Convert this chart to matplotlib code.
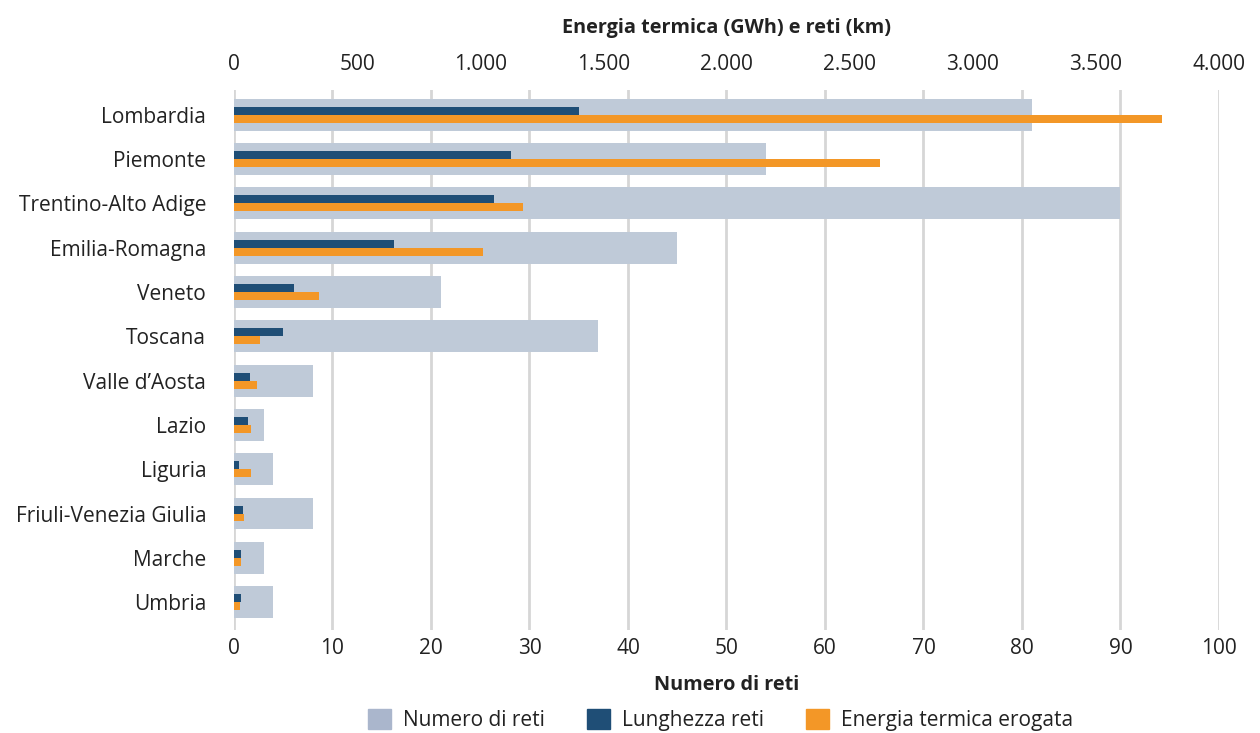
import matplotlib.pyplot as plt
from matplotlib.patches import Patch

plt.rcParams['font.family'] = ['Open Sans', 'DejaVu Sans']

# regions, top to bottom
regioni = ['Lombardia', 'Piemonte', 'Trentino-Alto Adige', 'Emilia-Romagna',
           'Veneto', 'Toscana', 'Valle d\u2019Aosta', 'Lazio', 'Liguria',
           'Friuli-Venezia Giulia', 'Marche', 'Umbria']

# number of networks (bottom axis)
numero_reti = [81, 54, 90, 45, 21, 37, 8, 3, 4, 8, 3, 4]
# network length, km (top axis)
lunghezza_reti = [1400, 1125, 1055, 650, 245, 200, 65, 57, 20, 37, 28, 28]
# heat delivered, GWh (top axis)
energia_erogata = [3770, 2625, 1175, 1010, 345, 105, 93, 69, 69, 41, 28, 24]

top_ticks = [0, 500, 1000, 1500, 2000, 2500, 3000, 3500, 4000]
top_labels = ['0', '500', '1.000', '1.500', '2.000', '2.500', '3.000', '3.500', '4.000']

c_gray = '#BFCAD8'
c_blue = '#1F4E76'
c_orange = '#F39727'
c_text = '#222222'
fs = 15       # regular text
fs_b = 14.3   # bold axis titles

fig = plt.figure(figsize=(12.6, 7.33), dpi=100)
ax = fig.add_axes([0.1857, 0.1405, 0.7817, 0.7367])

y = list(range(len(regioni)))

# gray bars on the bottom axis
ax.barh(y, numero_reti, height=0.72, color=c_gray, zorder=2)
ax.set_xlim(0, 100)
ax.set_xticks(range(0, 101, 10))
ax.grid(axis='x', color='#D6D6D6', linewidth=2, zorder=0)
ax.set_axisbelow(True)
ax.set_yticks(y)
ax.set_yticklabels(regioni)
ax.set_ylim(11.63, -0.56)
ax.tick_params(length=0, labelsize=fs, labelcolor=c_text)
ax.tick_params(axis='y', pad=20)
ax.tick_params(axis='x', pad=6)
ax.set_xlabel('Numero di reti', fontsize=fs_b, fontweight='bold', color=c_text, labelpad=11)
for s in ax.spines.values():
    s.set_visible(False)

# km and GWh on the top axis
ax2 = ax.twiny()
ax2.barh([v - 0.09 for v in y], lunghezza_reti, height=0.18, color=c_blue, zorder=3)
ax2.barh([v + 0.09 for v in y], energia_erogata, height=0.18, color=c_orange, zorder=3)
ax2.set_xlim(0, 4000)
ax2.set_xticks(top_ticks)
ax2.set_xticklabels(top_labels)
ax2.tick_params(length=0, labelsize=fs, labelcolor=c_text, pad=11)
ax2.set_xlabel('Energia termica (GWh) e reti (km)', fontsize=fs_b, fontweight='bold',
               color=c_text, labelpad=15)
ax2.set_ylim(11.63, -0.56)
for s in ax2.spines.values():
    s.set_visible(False)

handles = [Patch(color='#AAB6CC'), Patch(color=c_blue), Patch(color=c_orange)]
fig.legend(handles, ['Numero di reti', 'Lunghezza reti', 'Energia termica erogata'],
           loc='center', bbox_to_anchor=(0.572, 0.018), ncol=3, frameon=False,
           fontsize=fs, handlelength=1.1, handleheight=1.1, columnspacing=2.0,
           handletextpad=0.6, labelcolor=c_text)

fig.savefig('out.png', dpi=100)
